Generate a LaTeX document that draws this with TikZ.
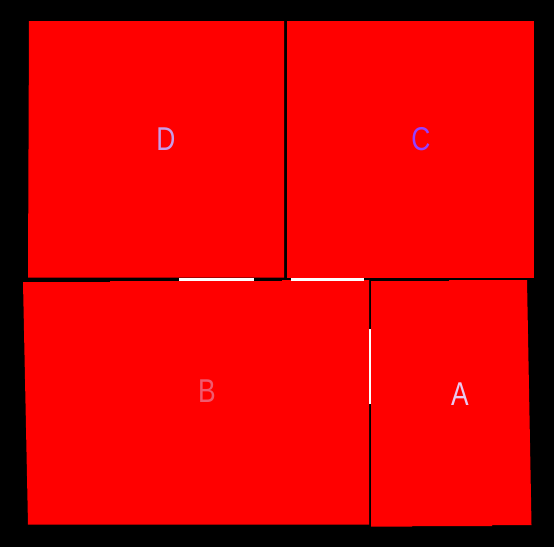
\documentclass[tikz,border=0pt]{standalone}
\usepackage{fontspec}
\setmainfont{Liberation Sans}
\definecolor{bg}{RGB}{0,0,0}
\definecolor{boxred}{RGB}{255,0,0}
\definecolor{labD}{RGB}{200,155,230}
\definecolor{labC}{RGB}{150,64,255}
\definecolor{labB}{RGB}{240,90,110}
\definecolor{labA}{RGB}{232,200,240}
\tikzset{
  panel/.style={fill=boxred, draw=none},
  seam/.style={fill=white, draw=none},
  lab/.style={anchor=base, inner sep=0pt, font=\fontsize{33}{33}\selectfont, xscale=0.8}
}
\begin{document}
\begin{tikzpicture}[x=1pt,y=-1pt]
\fill[bg] (0,0) rectangle (554,547);
\useasboundingbox (0,0) rectangle (554,547);
% D
\fill[panel] (29,21) -- (284,21) -- (284,277.7) -- (28,277.7) -- cycle;
% C
\fill[panel] (287.3,21) -- (534,21) -- (534,277.7) -- (287.3,277.7) -- cycle;
% B
\fill[panel] (23,282) -- (110,282) -- (110,281) -- (282,281) -- (282,280) -- (369,280) -- (369,524.7) -- (28,524.7) -- cycle;
% A
\fill[panel] (371,281) -- (449,281) -- (449,280) -- (527,280) -- (531.5,525) -- (492,525) -- (492,526) -- (412,526) -- (412,526.7) -- (371,526.7) -- cycle;
% white seams
\fill[seam] (179,278.3) rectangle (254,280.7);
\fill[seam] (291,278.3) rectangle (364,280.7);
\fill[seam] (369,329) rectangle (371,404);
% labels
\node[lab, text=labD] (D) at (166,150) {D};
\node[lab, text=labC] (C) at (421,150.5) {C};
\node[lab, text=labB] (B) at (207,402) {B};
\node[lab, text=labA] (A) at (460,405) {A};
\end{tikzpicture}
\end{document}
